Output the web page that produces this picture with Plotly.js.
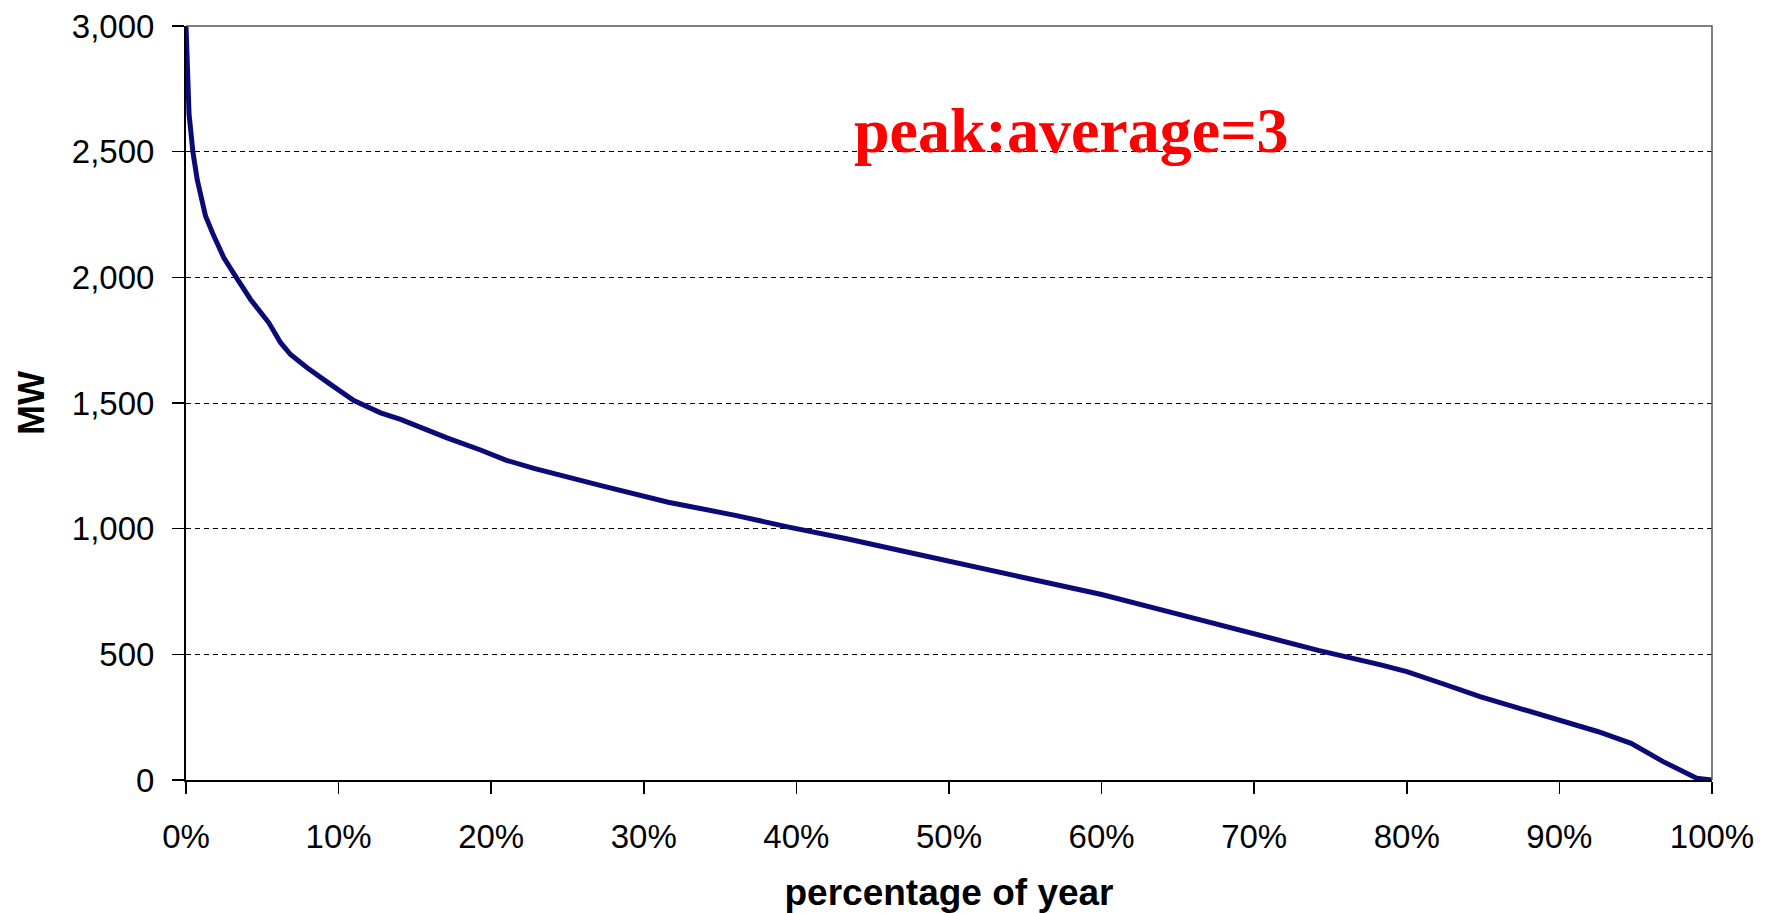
<!DOCTYPE html>
<html>
<head>
<meta charset="utf-8">
<script src="https://cdn.plot.ly/plotly-3.0.1.min.js"></script>
<style>
  html, body { margin: 0; padding: 0; background: #ffffff; }
  #chart { width: 1767px; height: 913px; }
</style>
</head>
<body>
<div id="chart"></div>
<script>
// percentage of year (x) and load in MW (y)
const pctOfYear = [0, 0.05, 0.1, 0.2, 0.3, 0.45, 0.73, 1.28, 1.82, 2.48, 3.24, 4.23, 5.43, 6.2, 6.85, 7.94, 9.47, 11.0, 12.75, 14.06, 15.5, 17.1, 19.3, 21.0, 22.8, 25.0, 27.2, 31.6, 36.0, 39.5, 43.3, 47.7, 52.1, 56.5, 60, 65.2, 70, 74.2, 78.3, 80, 82.6, 84.8, 87.0, 90, 92.5, 94.7, 96.8, 99.0, 100];
const loadMW    = [3000, 2880, 2720, 2650, 2590, 2500, 2390, 2244, 2165, 2078, 2005, 1912, 1819, 1740, 1693, 1640, 1574, 1510, 1461, 1435, 1400, 1361, 1313, 1272, 1240, 1203, 1171, 1105, 1053, 1006, 960, 901, 842, 783, 738, 657, 583, 516, 458, 431, 378, 332, 292, 239, 193, 146, 73, 7, 0];

const xTitle = 'percentage of year';
const yTitle = 'MW';
const noteText = 'peak:average=3';

const sans = 'Liberation Sans, Arial, sans-serif';

const trace = {
  type: 'scatter',
  mode: 'lines',
  x: pctOfYear,
  y: loadMW,
  line: { color: '#0b0b78', width: 5 },
  hoverinfo: 'skip'
};

const layout = {
  width: 1767,
  height: 913,
  margin: { l: 186, r: 55, t: 26, b: 133 },
  paper_bgcolor: '#ffffff',
  plot_bgcolor: '#ffffff',
  showlegend: false,
  font: { family: sans, color: '#000000' },
  xaxis: {
    range: [0, 100],
    tickmode: 'linear',
    tick0: 0,
    dtick: 10,
    ticksuffix: '%',
    showgrid: false,
    zeroline: false,
    showline: true,
    linecolor: '#000000',
    linewidth: 2,
    ticks: 'outside',
    ticklen: 12,
    tickwidth: 1.5,
    tickcolor: '#000000',
    ticklabelstandoff: 14,
    tickfont: { family: sans, size: 33, color: '#000000' },
    title: { text: xTitle, font: { family: sans, size: 37, color: '#000000', weight: 'bold' }, standoff: 28 },
    automargin: false,
    fixedrange: true
  },
  yaxis: {
    range: [0, 3000],
    tickmode: 'linear',
    tick0: 0,
    dtick: 500,
    tickformat: ',d',
    showgrid: true,
    gridcolor: '#000000',
    gridwidth: 1,
    griddash: '5px,4px',
    zeroline: false,
    showline: true,
    linecolor: '#000000',
    linewidth: 2,
    ticks: 'outside',
    ticklen: 12,
    tickwidth: 1.5,
    tickcolor: '#000000',
    ticklabelstandoff: 11,
    tickfont: { family: sans, size: 33, color: '#000000' },
    title: { text: yTitle, font: { family: sans, size: 36, color: '#000000', weight: 'bold' }, standoff: 16 },
    automargin: false,
    fixedrange: true
  },
  shapes: [
    {
      type: 'path',
      xref: 'paper', yref: 'paper',
      path: 'M 0 1 L 1 1 L 1 0',
      line: { color: '#555555', width: 1.5 },
      layer: 'above'
    }
  ],
  annotations: [
    {
      xref: 'x', yref: 'y',
      x: 58.0, y: 2585,
      xanchor: 'center', yanchor: 'middle',
      text: noteText,
      showarrow: false,
      font: { family: 'Liberation Serif, Times New Roman, serif', size: 64, color: '#ff0000', weight: 'bold' }
    }
  ]
};

Plotly.newPlot('chart', [trace], layout, { displayModeBar: false, staticPlot: true });
</script>
</body>
</html>
